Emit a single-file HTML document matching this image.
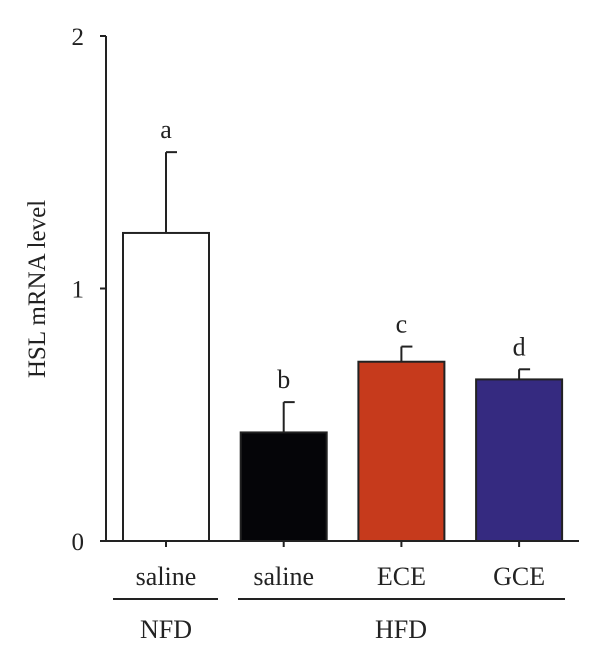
<!DOCTYPE html>
<html><head><style>
body{margin:0;background:#fff}
svg text{font-family:"Liberation Serif",serif;fill:#222}
</style></head><body>
<svg width="600" height="661" viewBox="0 0 600 661">
<g id="axes"></g>
<g id="bars"></g>
<text transform="translate(45,289) rotate(-90)" text-anchor="middle" font-size="25">HSL mRNA level</text>
<line x1="113" y1="599" x2="218" y2="599" stroke="#222" stroke-width="2"/>
<line x1="238" y1="599" x2="565" y2="599" stroke="#222" stroke-width="2"/>
<text x="166" y="638" text-anchor="middle" font-size="26">NFD</text>
<text x="401" y="638" text-anchor="middle" font-size="26">HFD</text>
</svg>
<script>
const categories=["saline","saline","ECE","GCE"];
const values=[1.22,0.43,0.71,0.64];
const errors=[0.32,0.12,0.06,0.04];
const letters=["a","b","c","d"];
const colors=["#ffffff","#050508","#c63a1c","#352a80"];
const yTicks=[0,1,2];
const NS="http://www.w3.org/2000/svg";
const y0=541,yTop=36,yMax=2;
function y(v){return y0-(v/yMax)*(y0-yTop);}
function x(i){return 166+i*117.7;}
const bw=86;
function mk(t,a,p){const e=document.createElementNS(NS,t);for(const k in a)e.setAttribute(k,a[k]);p.appendChild(e);return e;}
const ax=document.getElementById('axes'),bg=document.getElementById('bars');
let l=mk('line',{x1:106,y1:y(yMax),x2:106,y2:y0,stroke:'#222','stroke-width':2},ax);


l=mk('line',{x1:100,y1:y0,x2:579,y2:y0,stroke:'#222','stroke-width':2},ax);


yTicks.forEach(t=>{
 const tk=mk('line',{x1:100,y1:y(t),x2:106,y2:y(t),stroke:'#222','stroke-width':2},ax);
 
 
 const tx=mk('text',{x:84,y:y(t)+9,'text-anchor':'end','font-size':25},ax);
 tx.textContent=t;
 
 
});
categories.forEach((c,i)=>{
 const cx=x(i);
 const tk=mk('line',{x1:cx,y1:y0,x2:cx,y2:y0+6,stroke:'#222','stroke-width':2},ax);
 
 
 const tx=mk('text',{x:cx,y:585,'text-anchor':'middle','font-size':26},ax);
 tx.textContent=c;
 
 
 const top=y(values[i]+errors[i]);
 const el=mk('line',{x1:cx,y1:top,x2:cx,y2:y(values[i]),stroke:'#222','stroke-width':2},bg);
 
 
 const cap=mk('line',{x1:cx,y1:top,x2:cx+11,y2:top,stroke:'#222','stroke-width':2},bg);
 
 
 const r=mk('rect',{x:cx-bw/2,y:y(values[i]),width:bw,height:y0-y(values[i]),fill:colors[i],stroke:'#222','stroke-width':2},bg);
 
 
 const lt=mk('text',{x:cx,y:top-14,'text-anchor':'middle','font-size':26},bg);
 lt.textContent=letters[i];
 
 
});
</script>
</body></html>
